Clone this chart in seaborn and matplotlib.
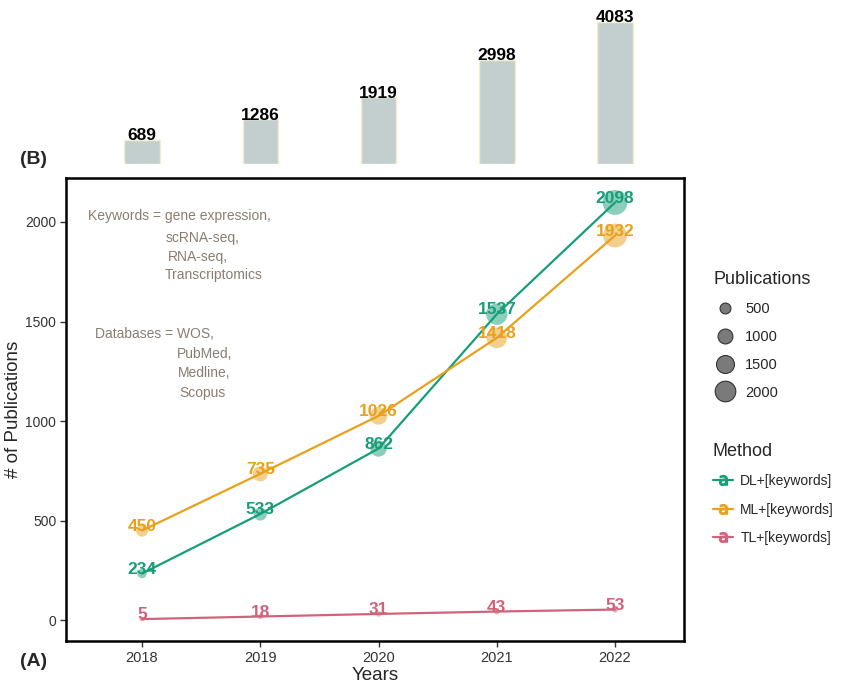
import matplotlib
matplotlib.use("Agg")
import matplotlib.pyplot as plt
from matplotlib.lines import Line2D
import seaborn as sns
import pandas as pd

years = [2018, 2019, 2020, 2021, 2022]
dl_counts = [234, 533, 862, 1537, 2098]
ml_counts = [450, 735, 1026, 1418, 1932]
tl_counts = [5, 18, 31, 43, 53]
totals = [689, 1286, 1919, 2998, 4083]
methods = ["DL+[keywords]", "ML+[keywords]", "TL+[keywords]"]
size_breaks = [500, 1000, 1500, 2000]

palette = {"DL+[keywords]": "#179e78", "ML+[keywords]": "#e8a11c", "TL+[keywords]": "#d0637a"}

df = pd.DataFrame({
    "Years": years * 3,
    "Publications": dl_counts + ml_counts + tl_counts,
    "Method": [m for m in methods for _ in years],
})
tot = pd.DataFrame({"Years": years, "Total": totals})

sns.set_theme(style="white")
plt.rcParams["font.family"] = ["Liberation Sans", "DejaVu Sans"]

fig = plt.figure(figsize=(8.42, 6.83), dpi=100)
W, H = 842, 683
ax = fig.add_axes([66 / W, 1 - 641 / H, 618 / W, 463 / H])
axb = fig.add_axes([66 / W, 1 - 164 / H, 618 / W, 159 / H])

xlim = (2017.357, 2022.583)
smin, smax = 12, 320
vmin, vmax = 5, 2098

# main panel: bubbles, lines and value labels
sns.scatterplot(data=df, x="Years", y="Publications", hue="Method", size="Publications",
                sizes=(smin, smax), size_norm=(vmin, vmax), palette=palette,
                alpha=0.5, edgecolor="none", legend=False, ax=ax, zorder=2)
sns.lineplot(data=df, x="Years", y="Publications", hue="Method", palette=palette,
             linewidth=1.6, legend=False, ax=ax, zorder=3)
for _, r in df.iterrows():
    ax.annotate(str(r["Publications"]), (r["Years"], r["Publications"]),
                xytext=(0, 3), textcoords="offset points", ha="center", va="center",
                color=palette[r["Method"]], fontsize=12.5, fontweight="bold", zorder=4)

ax.set_xlim(*xlim)
ax.set_ylim(-105, 2221)
ax.set_xticks(years)
ax.set_xticklabels([str(y) for y in years], fontsize=10.5, color="#333333")
ax.set_yticks([0, 500, 1000, 1500, 2000])
ax.set_yticklabels(["0", "500", "1000", "1500", "2000"], fontsize=10, color="#333333")
ax.tick_params(axis="both", which="both", length=4, width=1, color="#333333", direction="out",
               bottom=True, left=True, pad=3)
ax.set_xlabel("Years", fontsize=13.5, labelpad=2)
ax.set_ylabel("# of Publications", fontsize=13.5)
ax.yaxis.set_label_coords(-0.071, 0.5)
for s in ax.spines.values():
    s.set_color("black")
    s.set_linewidth(1.8)

# annotation block
note_color = "#8a7d70"
notes = [
    ("Keywords = gene expression,", 0.036, 0.918),
    ("scRNA-seq,", 0.162, 0.870),
    ("RNA-seq,", 0.165, 0.829),
    ("Transcriptomics", 0.160, 0.790),
    ("Databases = WOS,", 0.047, 0.663),
    ("PubMed,", 0.180, 0.620),
    ("Medline,", 0.181, 0.579),
    ("Scopus", 0.184, 0.536),
]
for txt, x, y in notes:
    ax.text(x, y, txt, transform=ax.transAxes, ha="left", va="center",
            fontsize=10, color=note_color)

# top panel: yearly totals
sns.barplot(data=tot, x="Years", y="Total", native_scale=True, width=0.3,
            color="#c3cfcf", saturation=1, edgecolor="#f2eecb", linewidth=1, ax=axb)
for x, v in zip(years, totals):
    axb.annotate(str(v), (x, v), xytext=(0, 3), textcoords="offset points",
                 ha="center", va="center", fontsize=12.5, fontweight="bold", color="black")
axb.set_xlim(*xlim)
axb.set_ylim(0, 4572)
axb.axis("off")

fig.text(20 / W, 1 - 160 / H, "(B)", fontsize=14, fontweight="bold", ha="left", va="center")
fig.text(20 / W, 1 - 662 / H, "(A)", fontsize=14, fontweight="bold", ha="left", va="center")

# legends
def area(v):
    return smin + (v - vmin) / (vmax - vmin) * (smax - smin)

size_handles = [Line2D([], [], linestyle="none", marker="o", markersize=area(v) ** 0.5 * 0.85,
                       markerfacecolor="#7a7a7a", markeredgecolor="#333333",
                       markeredgewidth=0.8) for v in size_breaks]
leg1 = fig.legend(size_handles, [str(v) for v in size_breaks], title="Publications",
                  loc="upper left", bbox_to_anchor=(700 / W, 1 - 258 / H), frameon=False,
                  fontsize=10.5, title_fontsize=13, labelspacing=0.95, handletextpad=0.6,
                  handlelength=1.6, alignment="left")

method_handles = [Line2D([], [], color=palette[m], lw=1.6, marker="$\\mathrm{a}$",
                         markersize=7) for m in methods]
leg2 = fig.legend(method_handles, methods, title="Method", loc="upper left",
                  bbox_to_anchor=(700 / W, 1 - 430 / H), frameon=False,
                  fontsize=10, title_fontsize=13, labelspacing=1.05, handletextpad=0.5,
                  handlelength=1.5, alignment="left")

fig.savefig("out.png", dpi=100, facecolor="white")
